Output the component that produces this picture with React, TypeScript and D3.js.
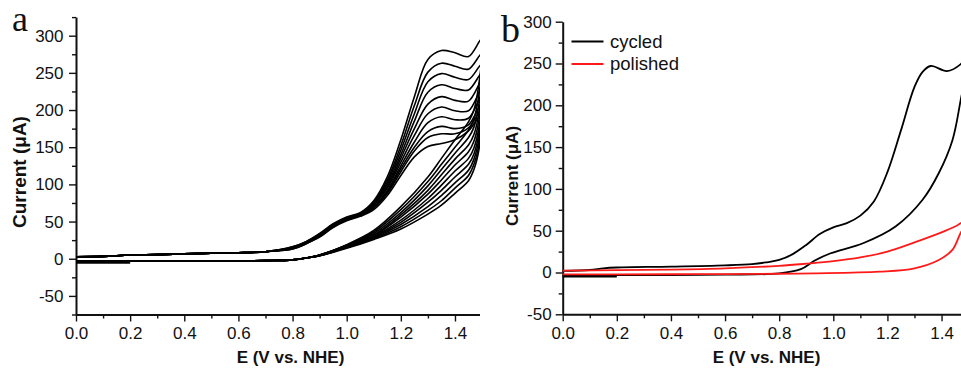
import { useEffect, useRef } from "react";
import * as d3 from "d3";

// ---- panel a: repeated cycles (forward low part shared) ----
const fwdLowE = [0, 0.1, 0.2, 0.3, 0.4, 0.5, 0.6, 0.7];
const fwdLowI = [2.7, 3.2, 5, 5.5, 6.5, 7.5, 8, 9.5];
const fwdHighE = [0.8, 0.85, 0.9, 0.95, 1.0, 1.05, 1.1, 1.15, 1.2, 1.25, 1.3, 1.35, 1.4, 1.45, 1.5];
const fwdHighI = [
  [16, 23, 34, 47, 56, 62, 78, 110, 160, 218, 268, 280, 277, 272, 296],
  [16, 23, 33, 46, 55, 61, 76, 106, 152, 206, 251, 263, 259, 255, 276],
  [15, 22, 33, 46, 55, 61, 75, 103, 146, 195, 238, 249, 244, 241, 262],
  [15, 22, 32, 45, 54, 60, 74, 100, 140, 185, 224, 234, 229, 227, 250],
  [15, 22, 32, 45, 54, 60, 73, 97, 135, 175, 208, 218, 213, 212, 240],
  [14, 21, 31, 44, 53, 59, 72, 95, 130, 166, 195, 204, 199, 199, 230],
  [14, 21, 31, 44, 53, 59, 70, 92, 125, 157, 183, 191, 187, 189, 220],
  [14, 21, 30, 43, 52, 58, 69, 90, 121, 150, 171, 178, 175, 180, 210],
  [13, 20, 30, 43, 52, 58, 68, 88, 117, 145, 163, 168, 168, 176, 202],
  [13, 20, 29, 42, 51, 57, 66, 85, 112, 137, 151, 155, 160, 172, 195],
];
const revHighE = [1.5, 1.49, 1.47, 1.45, 1.4, 1.35, 1.3, 1.2, 1.1, 1.0, 0.9, 0.85];
const revHighI = [
  [296, 240, 200, 184, 160, 135, 110, 70, 38, 19, 5, 1],
  [276, 225, 188, 173, 150, 127, 104, 66, 36, 18, 5, 1],
  [262, 212, 177, 163, 142, 120, 98, 62, 34, 18, 5, 1],
  [250, 200, 167, 153, 134, 113, 92, 59, 32, 17, 5, 1],
  [240, 190, 158, 144, 126, 106, 87, 56, 31, 17, 4.5, 1],
  [230, 180, 149, 135, 118, 99, 81, 52, 30, 16, 4.5, 1],
  [220, 172, 141, 127, 110, 92, 76, 49, 29, 16, 4.5, 1],
  [210, 164, 134, 119, 102, 85, 70, 46, 28, 15, 4, 1],
  [202, 157, 127, 112, 95, 78, 65, 43, 27, 15, 4, 1],
  [195, 150, 120, 105, 88, 72, 60, 40, 26, 14, 4, 1],
];
const revTailE = [0.8, 0.7, 0.5, 0.3, 0.2, 0.0];
const revTailI = [-1.5, -2.5, -3, -3, -3, -3];
const startE = [0.2, 0.0];
const startIa = [-5.5, -5.5];

// ---- panel b: cycled vs polished ----
const cycFwdE = [0, 0.1, 0.15, 0.2, 0.4, 0.6, 0.7, 0.75, 0.8, 0.85, 0.9, 0.95, 1.0, 1.05, 1.1, 1.15, 1.2, 1.25, 1.3, 1.33, 1.36, 1.42, 1.47, 1.5];
const cycFwdI = [2, 3, 5, 6, 7, 8.5, 10, 12, 15, 22, 33, 46, 54, 59, 68, 85, 120, 170, 222, 240, 247, 241, 249, 262];
const cycRevE = [1.5, 1.47, 1.44, 1.39, 1.33, 1.23, 1.11, 0.99, 0.93, 0.88, 0.8, 0.6, 0.4, 0.2, 0];
const cycRevI = [262, 205, 158, 119, 87, 55, 35, 23, 14, 4, -1, -2.5, -3, -3, -3];
const startIb = [-5, -5];
const polFwdE = [0, 0.2, 0.4, 0.6, 0.8, 0.9, 1.0, 1.1, 1.2, 1.3, 1.4, 1.45, 1.5];
const polFwdI = [2.2, 2.8, 3.5, 5, 8, 10.5, 13.5, 18, 25, 36, 48, 55, 64];
const polRevE = [1.5, 1.47, 1.44, 1.39, 1.3, 1.17, 0.93, 0.8, 0.5, 0.2, 0];
const polRevI = [64, 47, 27, 15, 5, 1, -1, -1.5, -2, -2.2, -2.2];

const legendLabels = ["cycled", "polished"];
const legendColors = ["#000", "#ff1a1a"];

const xMajor = [0, 0.2, 0.4, 0.6, 0.8, 1.0, 1.2, 1.4];
const xMinor = [0.1, 0.3, 0.5, 0.7, 0.9, 1.1, 1.3, 1.5];
const yMajor = [-50, 0, 50, 100, 150, 200, 250, 300];
const yMinorA = [-75, -25, 25, 75, 125, 175, 225, 275, 325];
const yMinorB = [-25, 25, 75, 125, 175, 225, 275];

const zip = (es: number[], is: number[]) => es.map((e, i) => [e, is[i]] as [number, number]);

const SANS = "'Liberation Sans', Arial, sans-serif";

export default function App() {
  const ref = useRef<SVGSVGElement>(null);

  useEffect(() => {
    const svg = d3.select(ref.current);
    svg.selectAll("*").remove();

    svg
      .append("defs")
      .append("clipPath")
      .attr("id", "clipA")
      .append("rect")
      .attr("x", 0)
      .attr("y", 0)
      .attr("width", 480)
      .attr("height", 368);

    const drawAxes = (
      g: d3.Selection<SVGGElement, unknown, null, undefined>,
      x: d3.ScaleLinear<number, number>,
      y: d3.ScaleLinear<number, number>,
      yMinor: number[],
      yPad: number
    ) => {
      const y0 = y.range()[0];
      const x0 = x.range()[0];
      const styleAxis = (a: d3.Selection<SVGGElement, unknown, null, undefined>) => {
        a.select(".domain").attr("stroke", "#111").attr("stroke-width", 2);
        a.selectAll(".tick line").attr("stroke", "#111").attr("stroke-width", 1.4);
        a.selectAll(".tick text")
          .attr("fill", "#111")
          .style("font-family", SANS)
          .style("font-size", "17px");
      };
      const bx = g.append("g").attr("transform", `translate(0,${y0})`);
      bx.call(d3.axisBottom(x).tickValues(xMinor).tickSize(4).tickSizeOuter(0).tickFormat(() => ""));
      bx.select(".domain").remove();
      bx.selectAll(".tick line").attr("stroke", "#111").attr("stroke-width", 1.4);
      const bx2 = g.append("g").attr("transform", `translate(0,${y0})`);
      bx2.call(
        d3.axisBottom(x).tickValues(xMajor).tickSize(7).tickSizeOuter(0).tickPadding(5.5)
          .tickFormat((d) => (d as number).toFixed(1))
      );
      styleAxis(bx2);

      const ly = g.append("g").attr("transform", `translate(${x0},0)`);
      ly.call(d3.axisLeft(y).tickValues(yMinor).tickSize(4).tickSizeOuter(0).tickFormat(() => ""));
      ly.select(".domain").remove();
      ly.selectAll(".tick line").attr("stroke", "#111").attr("stroke-width", 1.4);
      const ly2 = g.append("g").attr("transform", `translate(${x0},0)`);
      ly2.call(
        d3.axisLeft(y).tickValues(yMajor).tickSize(7).tickSizeOuter(0).tickPadding(yPad)
          .tickFormat((d) => String(d))
      );
      styleAxis(ly2);
    };

    const line = d3
      .line<[number, number]>()
      .curve(d3.curveCatmullRom.alpha(0.5));

    // ---------- panel a ----------
    const xA = d3.scaleLinear().domain([0, 1.5]).range([76, 76 + 1.5 * 270.7]);
    const yA = d3.scaleLinear().domain([-75, 325]).range([314.5, 17.1]);
    const gA = svg.append("g").attr("clip-path", "url(#clipA)");
    drawAxes(gA, xA, yA, yMinorA, 5.5);
    line.x((d) => xA(d[0])).y((d) => yA(d[1]));

    const curvesA = gA.append("g").attr("fill", "none").attr("stroke", "#000").attr("stroke-width", 1.6);
    curvesA.append("path").attr("d", line(zip(startE, startIa)));
    fwdHighI.forEach((cyc, k) => {
      const pts = [...zip(fwdLowE, fwdLowI), ...zip(fwdHighE, cyc), ...zip(revHighE, revHighI[k]).slice(1), ...zip(revTailE, revTailI)];
      curvesA.append("path").attr("d", line(pts));
    });

    gA.append("text")
      .attr("transform", `translate(26,172) rotate(-90)`)
      .attr("text-anchor", "middle")
      .style("font-family", SANS)
      .style("font-weight", "bold")
      .style("font-size", "19px")
      .attr("fill", "#111")
      .text("Current (\u03bcA)");
    gA.append("text")
      .attr("x", 290.5)
      .attr("y", 363)
      .attr("text-anchor", "middle")
      .style("font-family", SANS)
      .style("font-weight", "bold")
      .style("font-size", "17px")
      .attr("fill", "#111")
      .text("E (V vs. NHE)");
    svg.append("text")
      .attr("x", 12)
      .attr("y", 31)
      .style("font-family", "'Liberation Serif', serif")
      .style("font-size", "36px")
      .attr("fill", "#111")
      .text("a");

    // ---------- panel b ----------
    const xB = d3.scaleLinear().domain([0, 1.5]).range([562.7, 562.7 + 1.5 * 270.6]);
    const yB = d3.scaleLinear().domain([-50, 300]).range([314.3, 21.7]);
    const gB = svg.append("g");
    drawAxes(gB, xB, yB, yMinorB, 4);
    line.x((d) => xB(d[0])).y((d) => yB(d[1]));

    const curvesB = gB.append("g").attr("fill", "none").attr("stroke-width", 1.8);
    curvesB.append("path").attr("stroke", legendColors[0]).attr("d", line(zip(startE, startIb)));
    curvesB.append("path").attr("stroke", legendColors[0])
      .attr("d", line([...zip(cycFwdE, cycFwdI), ...zip(cycRevE, cycRevI).slice(1)]));
    curvesB.append("path").attr("stroke", legendColors[1])
      .attr("d", line([...zip(polFwdE, polFwdI), ...zip(polRevE, polRevI).slice(1)]));

    const leg = gB.append("g");
    legendLabels.forEach((lab, i) => {
      const cy = 41.5 + i * 22.5;
      leg.append("line")
        .attr("x1", 571.5).attr("x2", 603.5)
        .attr("y1", cy).attr("y2", cy)
        .attr("stroke", legendColors[i])
        .attr("stroke-width", 1.8);
      leg.append("text")
        .attr("x", 610)
        .attr("y", cy + 6.3)
        .style("font-family", SANS)
        .style("font-size", "18.5px")
        .attr("fill", "#111")
        .text(lab);
    });

    gB.append("text")
      .attr("transform", `translate(518,176) rotate(-90)`)
      .attr("text-anchor", "middle")
      .style("font-family", SANS)
      .style("font-weight", "bold")
      .style("font-size", "17px")
      .attr("fill", "#111")
      .text("Current (\u03bcA)");
    gB.append("text")
      .attr("x", 766.5)
      .attr("y", 363)
      .attr("text-anchor", "middle")
      .style("font-family", SANS)
      .style("font-weight", "bold")
      .style("font-size", "17px")
      .attr("fill", "#111")
      .text("E (V vs. NHE)");
    svg.append("text")
      .attr("x", 501)
      .attr("y", 41.5)
      .style("font-family", "'Liberation Serif', serif")
      .style("font-size", "38px")
      .attr("fill", "#111")
      .text("b");
  }, []);

  return (
    <svg
      ref={ref}
      width={961}
      height={368}
      style={{ position: "absolute", left: 0, top: 0, background: "#fff", display: "block" }}
    />
  );
}
